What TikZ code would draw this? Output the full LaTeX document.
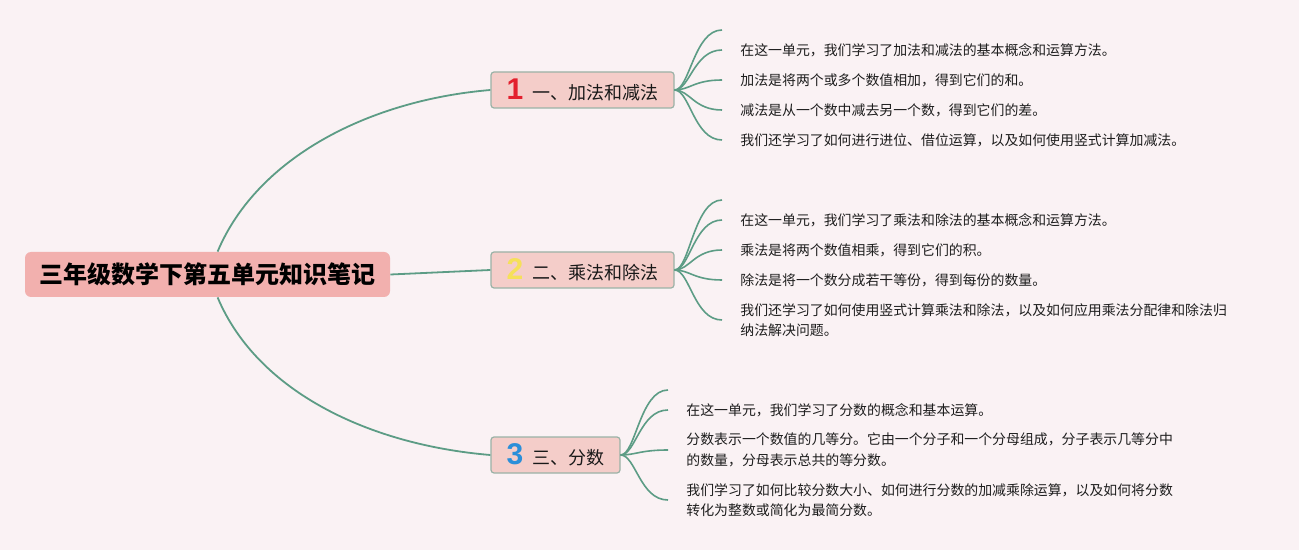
\documentclass[tikz,border=0pt]{standalone}
\usepackage{fontspec}
\newfontfamily\cjk{Noto Sans CJK SC}
\newfontfamily\numfont{Liberation Sans}
\usepackage{tikz}
\usetikzlibrary{calc}
\usepackage{xcolor}
\definecolor{bgpink}{HTML}{FAF2F4}
\definecolor{rootfill}{HTML}{F2B0AE}
\definecolor{topicfill}{HTML}{F4CDC9}
\definecolor{topicline}{HTML}{9AB2A6}
\definecolor{linkgreen}{HTML}{5C9C85}
\definecolor{numred}{HTML}{E3202E}
\definecolor{numyellow}{HTML}{F6E05A}
\definecolor{numblue}{HTML}{2B8FD9}
\definecolor{leaftext}{HTML}{1E1E1E}
\tikzset{
  rootbox/.style={fill=rootfill,rounded corners=3pt,minimum width=182.5pt,minimum height=22.5pt,inner sep=0pt,font=\cjk\bfseries\fontsize{12pt}{14pt}\selectfont},
  topicbox/.style={fill=topicfill,draw=topicline,line width=0.6pt,rounded corners=1.5pt,minimum height=18pt,inner sep=0pt,font=\cjk\fontsize{9pt}{11pt}\selectfont,text=black!90},
  leaf/.style={anchor=west,align=left,inner xsep=9pt,inner ysep=1pt,font=\cjk\fontsize{6.95pt}{10.2pt}\selectfont,text=leaftext},
  branch/.style={draw=linkgreen,line width=0.9pt},
  twig/.style={draw=linkgreen,line width=0.8pt},
}
\newcommand{\topicnum}[2]{{\numfont\bfseries\fontsize{15pt}{15pt}\selectfont\color{#1}#2}\hspace{4.5pt}}

\begin{document}
\begin{tikzpicture}[x=0.5pt,y=-0.5pt]
  \fill[bgpink] (0,0) rectangle (1299,550);
  \useasboundingbox (0,0) rectangle (1299,550);

  % 中心主题
  \node[rootbox] (root) at (207.5,274.5) {三年级数学下第五单元知识笔记};

  % 分支主题
  \node[topicbox,minimum width=91.5pt] (add) at (582.5,90) {\topicnum{numred}{1}一、加法和减法};
  \node[topicbox,minimum width=91.5pt] (mul) at (582.5,270) {\topicnum{numyellow}{2}二、乘法和除法};
  \node[topicbox,minimum width=64.5pt] (frac) at (555.5,455) {\topicnum{numblue}{3}三、分数};

  % 中心到分支
  \draw[branch] ($(root.north west)+(193,0)$) .. controls +(40,-95) and +(-120,10) .. (add.west);
  \draw[branch] (root.east) -- (mul.west);
  \draw[branch] ($(root.south west)+(193,0)$) .. controls +(40,95) and +(-120,-10) .. (frac.west);

  % 一、加法和减法
  \coordinate (add0) at (722,30);
  \node[leaf] (add1) at (722,50) {在这一单元，我们学习了加法和减法的基本概念和运算方法。};
  \node[leaf] (add2) at (722,80) {加法是将两个或多个数值相加，得到它们的和。};
  \node[leaf] (add3) at (722,110) {减法是从一个数中减去另一个数，得到它们的差。};
  \node[leaf] (add4) at (722,140) {我们还学习了如何进行进位、借位运算，以及如何使用竖式计算加减法。};

  % 二、乘法和除法
  \coordinate (mul0) at (722,200);
  \node[leaf] (mul1) at (722,220) {在这一单元，我们学习了乘法和除法的基本概念和运算方法。};
  \node[leaf] (mul2) at (722,250) {乘法是将两个数值相乘，得到它们的积。};
  \node[leaf] (mul3) at (722,280) {除法是将一个数分成若干等份，得到每份的数量。};
  \node[leaf] (mul4) at (722,320) {我们还学习了如何使用竖式计算乘法和除法，以及如何应用乘法分配律和除法归\\纳法解决问题。};

  % 三、分数
  \coordinate (frac0) at (668,390);
  \node[leaf] (frac1) at (668,410) {在这一单元，我们学习了分数的概念和基本运算。};
  \node[leaf] (frac2) at (668,450) {分数表示一个数值的几等分。它由一个分子和一个分母组成，分子表示几等分中\\的数量，分母表示总共的等分数。};
  \node[leaf] (frac3) at (668,500) {我们学习了如何比较分数大小、如何进行分数的加减乘除运算，以及如何将分数\\转化为整数或简化为最简分数。};

  % 分支到要点
  \foreach \n in {add0,add1,add2,add3,add4}
    \draw[twig] (add.east) .. controls +(15,0) and +(-28,0) .. (\n.west);
  \foreach \n in {mul0,mul1,mul2,mul3,mul4}
    \draw[twig] (mul.east) .. controls +(15,0) and +(-28,0) .. (\n.west);
  \foreach \n in {frac0,frac1,frac2,frac3}
    \draw[twig] (frac.east) .. controls +(15,0) and +(-28,0) .. (\n.west);
\end{tikzpicture}
\end{document}
